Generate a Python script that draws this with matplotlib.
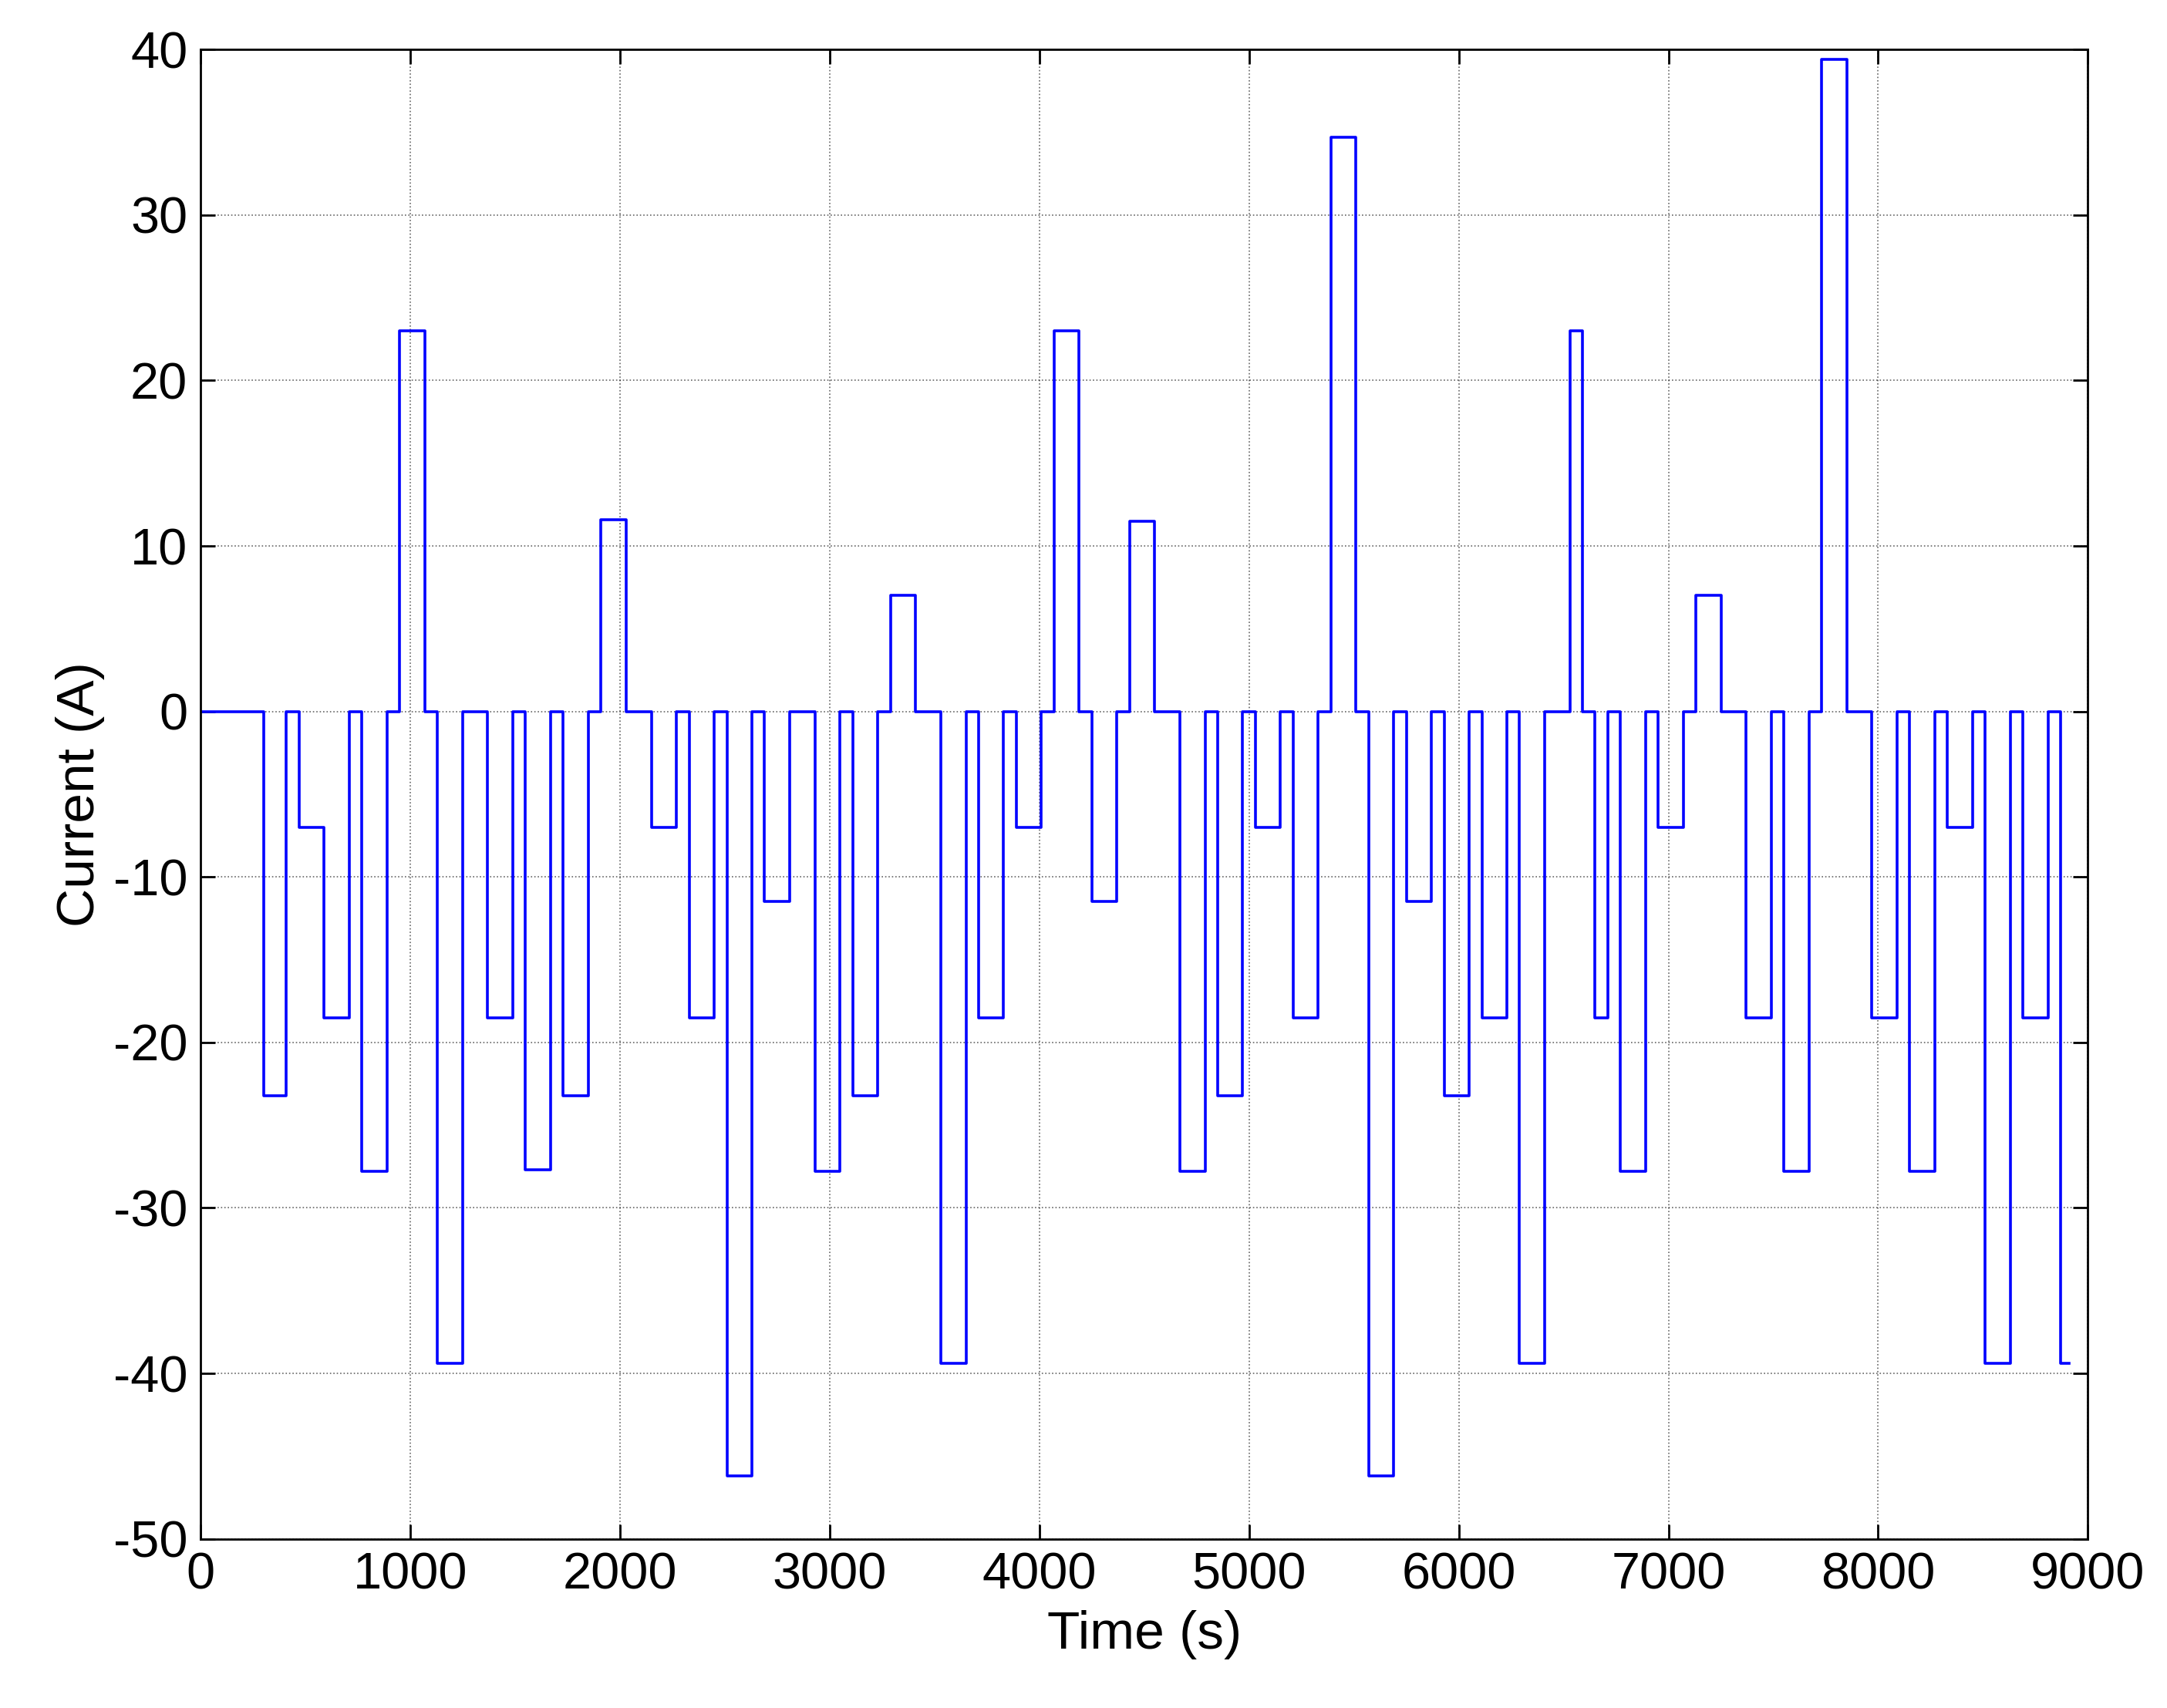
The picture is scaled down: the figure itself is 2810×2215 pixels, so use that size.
import matplotlib
matplotlib.use('Agg')
import matplotlib.pyplot as plt

plt.rcParams['font.family'] = ['Liberation Sans', 'DejaVu Sans']
plt.rcParams['axes.unicode_minus'] = False

# step start times (s) and current level (A) held until the next start
t_start = [0, 300, 410, 470, 590, 710, 770, 890, 950, 1070, 1130, 1250, 1370, 1490,
           1550, 1670, 1730, 1850, 1910, 2030, 2150, 2270, 2330, 2450, 2510, 2630,
           2690, 2810, 2930, 3050, 3110, 3230, 3290, 3410, 3530, 3650, 3710, 3830,
           3890, 4010, 4070, 4190, 4250, 4370, 4430, 4550, 4670, 4790, 4850, 4970,
           5030, 5150, 5210, 5330, 5390, 5510, 5570, 5690, 5750, 5870, 5930, 6050,
           6110, 6230, 6290, 6410, 6530, 6590, 6650, 6710, 6770, 6890, 6950, 7070,
           7130, 7250, 7370, 7490, 7550, 7670, 7730, 7850, 7970, 8090, 8150, 8270,
           8330, 8450, 8510, 8630, 8690, 8810, 8870, 8910]
current = [0, -23.2, 0, -7, -18.5, 0, -27.8, 0, 23, 0, -39.4, 0, -18.5, 0,
           -27.7, 0, -23.2, 0, 11.6, 0, -7, 0, -18.5, 0, -46.2, 0,
           -11.5, 0, -27.8, 0, -23.2, 0, 7, 0, -39.4, 0, -18.5, 0,
           -7, 0, 23, 0, -11.5, 0, 11.5, 0, -27.8, 0, -23.2, 0,
           -7, 0, -18.5, 0, 34.7, 0, -46.2, 0, -11.5, 0, -23.2, 0,
           -18.5, 0, -39.4, 0, 23, 0, -18.5, 0, -27.8, 0, -7, 0,
           7, 0, -18.5, 0, -27.8, 0, 39.4, 0, -18.5, 0, -27.8, 0,
           -7, 0, -39.4, 0, -18.5, 0, -39.4, -39.4]

fig = plt.figure(figsize=(28.1, 22.15), dpi=100)
ax = fig.add_axes([0.0925, 0.099, 0.871, 0.872])
ax.step(t_start, current, where='post', color='blue', lw=2.6)

ax.set_xlim(0, 9000)
ax.set_ylim(-50, 40)
ax.set_xticks(range(0, 9001, 1000))
ax.set_yticks(range(-50, 41, 10))
ax.grid(True, color='black', linestyle=':', linewidth=1.2, alpha=0.6)
ax.tick_params(direction='in', top=True, right=True, length=14, width=2, labelsize=48, pad=12)
for s in ax.spines.values():
    s.set_linewidth(2)
ax.set_xlabel('Time (s)', fontsize=50, labelpad=10)
ax.set_ylabel('Current (A)', fontsize=50, labelpad=8)

fig.savefig('out.png', dpi=100)
